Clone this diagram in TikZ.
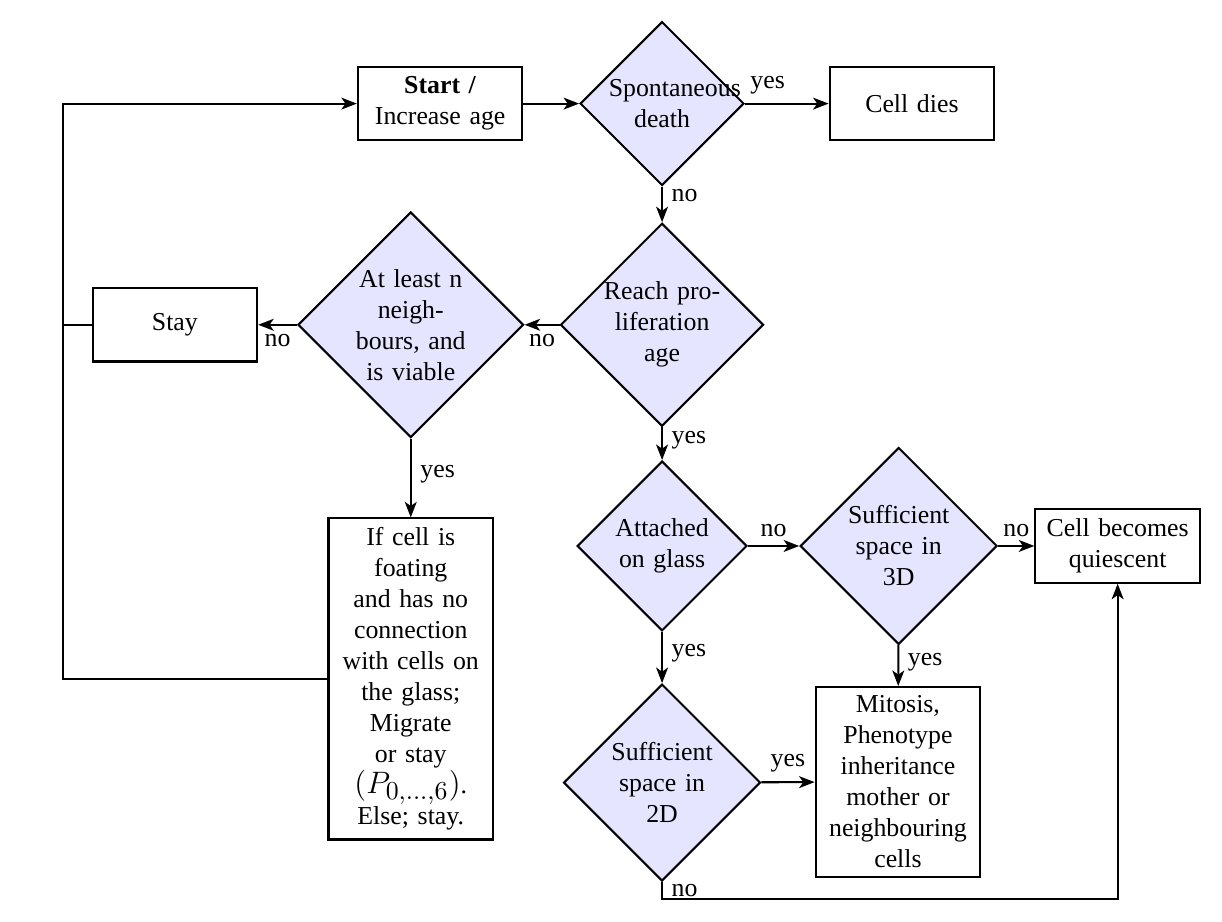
\documentclass[tikz,border=0pt]{standalone}
\usepackage{fontspec}
\setmainfont{Liberation Serif}
\usetikzlibrary{shapes.geometric, arrows.meta}

\begin{document}
\begin{tikzpicture}[>={Stealth[length=6pt, width=4.6pt, inset=1.6pt]}, thick,
    block/.style={draw, rectangle, text width=2.05cm, inner xsep=2pt, align=center, minimum width=2.24cm, minimum height=1cm},
    decision/.style={draw, diamond, aspect=1, fill=blue!10, text width=1.5cm, align=center, inner sep=0pt}]
    \useasboundingbox (0, 0) rectangle (16.63, -12.54);
    \node[block] (start) at (5.99, -1.41) {\textbf{Start /}\\Increase age};
    \node[decision, text width=1.45cm, minimum size=2.23cm] (death) at (9.01, -1.41) {Spontaneous\\death};
    \node[block] (dies) at (12.41, -1.41) {Cell dies};
    \node[decision, text width=1.6cm, minimum size=2.72cm] (prolif) at (9.01, -4.42) {Reach pro-\\liferation\\age};
    \node[decision, minimum size=3.07cm] (least) at (5.59, -4.42) {At least n\\neigh-\\bours, and\\is viable};
    \node[block] (stay) at (2.38, -4.42) {Stay};
    \node[block, minimum height=4.37cm] (ifcell) at (5.59, -9.24) {If cell is\\foating\\and has no\\connection\\with cells on\\the glass;\\Migrate\\or stay\\{\large$(P_{\mbox{\Large$\scriptstyle 0,\ldots,6$}})$}.\\Else; stay.};
    \node[decision, minimum size=2.31cm] (glass) at (9.01, -7.43) {Attached\\on glass};
    \node[decision, minimum size=2.68cm] (space3d) at (12.23, -7.43) {Sufficient\\space in\\3D};
    \node[block] (quiet) at (15.21, -7.43) {Cell becomes\\quiescent};
    \node[decision, minimum size=2.68cm] (space2d) at (9.01, -10.65) {Sufficient\\space in\\2D};
    \node[block, minimum height=2.58cm] (mitosis) at (12.22, -10.64) {Mitosis,\\Phenotype\\inheritance\\mother or\\neighbouring\\cells};
    \coordinate (back) at (0.86, -4.42);
    \coordinate (low) at (9.01, -12.24);

    \draw[->] (start) -- (death);
    \draw[->] (death) -- node[above, pos=0.27] {yes} (dies);
    \draw[->] (death) -- node[right, pos=0.25] {no} (prolif);
    \draw[->] (prolif) -- node[below] {no} (least);
    \draw[->] (least) -- node[below] {no} (stay);
    \draw[->] (least) -- node[right, pos=0.45] {yes} (ifcell);
    \draw[->] (prolif) -- node[right, pos=0.4] {yes} (glass);
    \draw[->] (glass) -- node[above] {no} (space3d);
    \draw[->] (space3d) -- node[above] {no} (quiet);
    \draw[->] (glass) -- node[right, pos=0.42] {yes} (space2d);
    \draw[->] (space3d) -- node[right, pos=0.42] {yes} (mitosis);
    \draw[->] (space2d) -- node[above] {yes} (mitosis);
    \draw[->] (space2d.south) -- node[right] {no} (low) -| (quiet.south);
    \draw[->] (ifcell.west) -- (ifcell.west -| back) |- (start.west);
    \draw (stay.west) -- (back);
  \end{tikzpicture}
\end{document}
